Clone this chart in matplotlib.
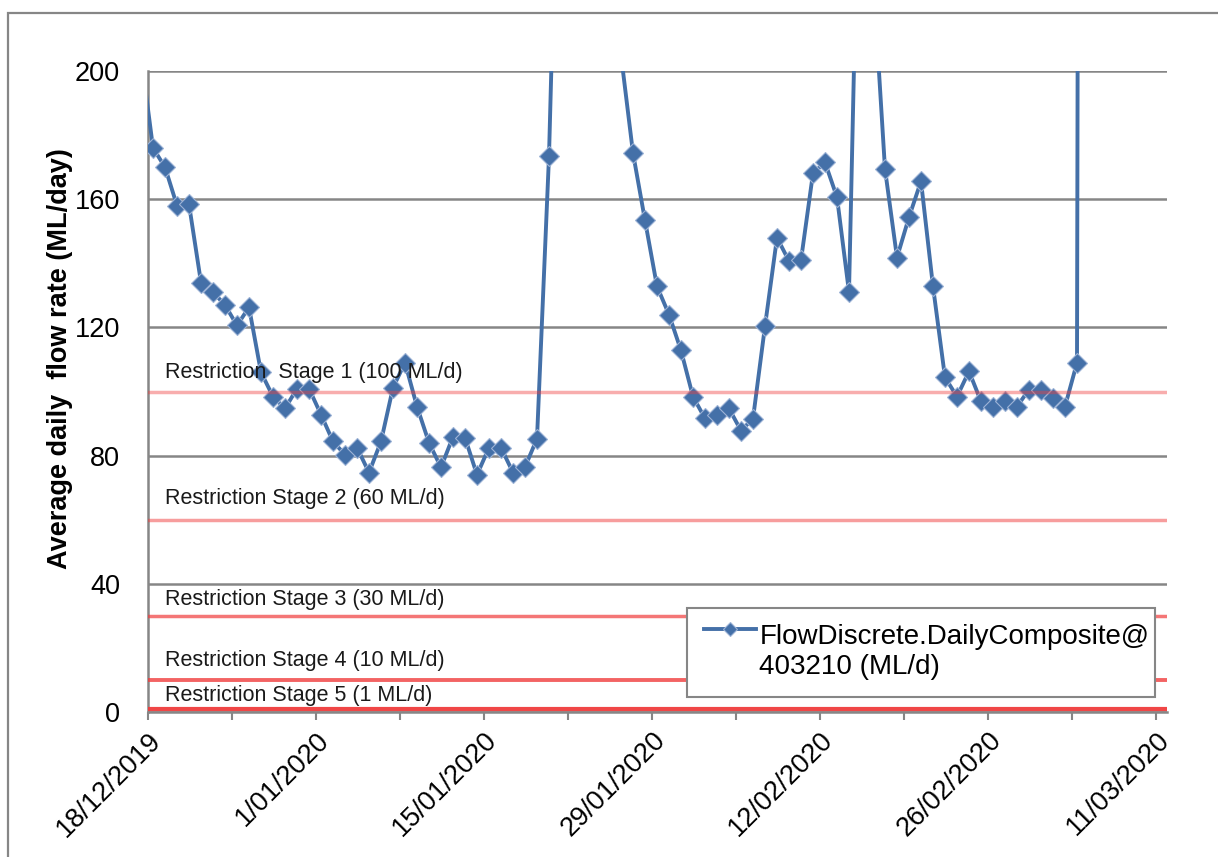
import matplotlib
matplotlib.use("Agg")
import matplotlib.pyplot as plt
from matplotlib.patches import Rectangle
from matplotlib.legend_handler import HandlerLine2D
import pandas as pd

plt.rcParams['font.family'] = ['Liberation Sans', 'DejaVu Sans']

# daily readings, first one is the day before the axis starts
fechas = pd.date_range("2019-12-17 10:00", periods=80, freq="D")
flujo = [205, 176, 170, 158, 158.4, 134, 131, 127, 120.6, 126.3,
         106, 98.4, 94.7, 100.9, 100.9, 92.8, 84.4, 80.3, 82.5, 74.7,
         84.4, 101.2, 109, 95.3, 84, 76.3, 85.9, 85.6, 74, 82.5,
         82.5, 74.7, 76.4, 85.3, 173.4, 313, 430, 520, 460, 330,
         205, 174.4, 153.4, 132.8, 124, 112.8, 98.4, 91.6, 92.8, 94.7,
         87.8, 91.5, 120.4, 148, 140.7, 141, 168.1, 171.5, 160.6, 131,
         300, 230, 169.4, 141.8, 154.4, 165.6, 132.8, 104.4, 98.4, 106.3,
         96.9, 95.3, 96.9, 95.3, 100.6, 100.6, 98.1, 95.3, 109, 1900]

etapas = ["Restriction  Stage 1 (100 ML/d)", "Restriction Stage 2 (60 ML/d)",
          "Restriction Stage 3 (30 ML/d)", "Restriction Stage 4 (10 ML/d)",
          "Restriction Stage 5 (1 ML/d)"]
limites = [100, 60, 30, 10, 1]
y_textos = [106, 66.5, 35, 16, 5]
alfas = [0.42, 0.5, 0.7, 0.8, 0.95]
anchos = [2.5, 2.5, 2.5, 2.8, 3.0]

nombre_serie = "FlowDiscrete.DailyComposite@\n403210 (ML/d)"
yticks = [0, 40, 80, 120, 160, 200]

gris = "#868686"
azul = "#4470a8"


class HandlerArriba(HandlerLine2D):
    # pone la muestra de la leyenda a la altura de la primera linea de texto
    def create_artists(self, legend, orig_handle, xdescent, ydescent, width, height, fontsize, trans):
        artistas = super().create_artists(legend, orig_handle, xdescent, ydescent, width, height, fontsize, trans)
        for a in artistas:
            a.set_ydata([y + fontsize*0.85 for y in a.get_ydata()])
        return artistas


fig = plt.figure(figsize=(12.18, 8.57), dpi=100)
ax = fig.add_axes([148/1218, 145/857, (1167-148)/1218, (712-71)/857])

# borde exterior del grafico
fig.patches.append(Rectangle((8/1218, -0.1), 1.2, 1.1 - 13/857, transform=fig.transFigure,
                             fill=False, edgecolor=gris, linewidth=1.6, clip_on=False))

linea, = ax.plot(fechas, flujo, color=azul, lw=2.8, marker="D", markersize=10,
                 markeredgecolor="#9db3d6", markeredgewidth=0.8, zorder=3, label=nombre_serie)

for i in range(len(limites)):
    ax.axhline(limites[i], color="#f03c3c", alpha=alfas[i], lw=anchos[i], zorder=4)
    ax.text(0.0167, y_textos[i], etapas[i], transform=ax.get_yaxis_transform(),
            fontsize=15.5, va="center", ha="left", color="#1a1a1a", zorder=4)

ax.set_ylim(0, 200)
ax.set_yticks(yticks)
ax.set_xlim(pd.Timestamp("2019-12-18"), pd.Timestamp("2020-03-11 22:00"))
mayores = pd.date_range("2019-12-18", "2020-03-11", freq="14D")
ax.set_xticks(mayores)
ax.set_xticks(pd.date_range("2019-12-25", "2020-03-04", freq="14D"), minor=True)
etiquetas = [f"{d.day}/{d.month:02d}/{d.year}" for d in mayores]
ax.set_xticklabels(etiquetas)

ax.grid(axis="y", color=gris, lw=1.8, zorder=1)
ax.set_axisbelow(True)
for lado in ["top", "right"]:
    ax.spines[lado].set_visible(False)
ax.spines["left"].set_color(gris)
ax.spines["left"].set_linewidth(1.8)
ax.spines["bottom"].set_color(gris)
ax.spines["bottom"].set_linewidth(1.8)

ax.tick_params(axis="y", length=0, pad=20, labelsize=19.5)
ax.tick_params(axis="x", which="both", direction="out", length=6, width=1.5, color=gris,
               pad=5, labelsize=19.5)
for t in ax.get_xticklabels():
    t.set_rotation(45)
    t.set_ha("right")
    t.set_va("top")
    t.set_rotation_mode("anchor")

ax.set_ylabel("Average daily  flow rate (ML/day)", fontsize=19.5, fontweight="bold")
ax.yaxis.set_label_coords(-0.0736, 0.552)

leg = ax.legend(handles=[linea], loc="lower left", bbox_to_anchor=(0.529, 0.0234, 0.459, 0.156),
                mode="expand", borderaxespad=0, fontsize=20, handlelength=1.9, handletextpad=0.1,
                borderpad=0.6, fancybox=False, framealpha=1, markerscale=0.75,
                handler_map={linea: HandlerArriba()})
leg.get_frame().set_edgecolor(gris)
leg.get_frame().set_linewidth(1.5)

fig.savefig("out.png", dpi=100)
